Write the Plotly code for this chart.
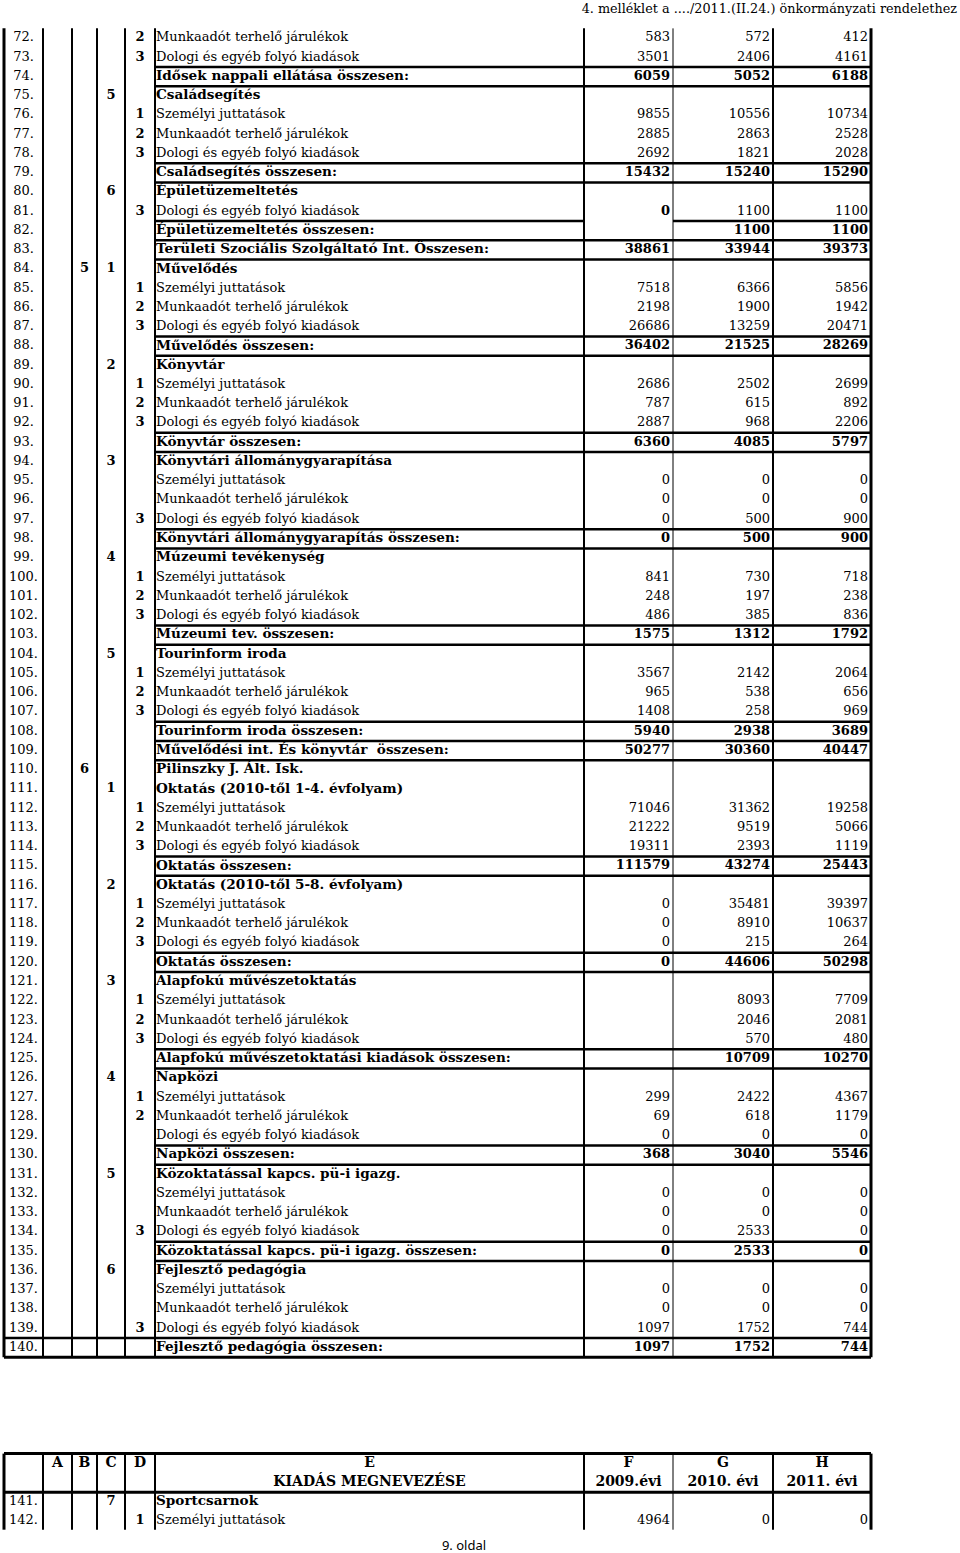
import plotly.graph_objects as go

# ---------------- data ----------------
row_no = list(range(72, 141))
col_b = {84: "5", 110: "6"}
col_c = {75: "5", 80: "6", 84: "1", 89: "2", 94: "3", 99: "4", 104: "5",
         111: "1", 116: "2", 121: "3", 126: "4", 131: "5", 136: "6"}
col_d = {72: "2", 73: "3", 76: "1", 77: "2", 78: "3", 81: "3", 85: "1", 86: "2", 87: "3",
         90: "1", 91: "2", 92: "3", 97: "3", 100: "1", 101: "2", 102: "3",
         105: "1", 106: "2", 107: "3", 112: "1", 113: "2", 114: "3",
         117: "1", 118: "2", 119: "3", 122: "1", 123: "2", 124: "3",
         127: "1", 128: "2", 134: "3", 139: "3"}
labels = [
    "Munkaadót terhelő járulékok", "Dologi és egyéb folyó kiadások",
    "Idősek nappali ellátása összesen:", "Családsegítés",
    "Személyi juttatások", "Munkaadót terhelő járulékok", "Dologi és egyéb folyó kiadások",
    "Családsegítés összesen:", "Épületüzemeltetés", "Dologi és egyéb folyó kiadások",
    "Épületüzemeltetés összesen:", "Területi Szociális Szolgáltató Int. Összesen:",
    "Művelődés", "Személyi juttatások", "Munkaadót terhelő járulékok",
    "Dologi és egyéb folyó kiadások", "Művelődés összesen:", "Könyvtár",
    "Személyi juttatások", "Munkaadót terhelő járulékok", "Dologi és egyéb folyó kiadások",
    "Könyvtár összesen:", "Könyvtári állománygyarapítása", "Személyi juttatások",
    "Munkaadót terhelő járulékok", "Dologi és egyéb folyó kiadások",
    "Könyvtári állománygyarapítás összesen:", "Múzeumi tevékenység",
    "Személyi juttatások", "Munkaadót terhelő járulékok", "Dologi és egyéb folyó kiadások",
    "Múzeumi tev. összesen:", "Tourinform iroda", "Személyi juttatások",
    "Munkaadót terhelő járulékok", "Dologi és egyéb folyó kiadások",
    "Tourinform iroda összesen:", "Művelődési int. És könyvtár  összesen:",
    "Pilinszky J. Ált. Isk.", "Oktatás (2010-től 1-4. évfolyam)",
    "Személyi juttatások", "Munkaadót terhelő járulékok", "Dologi és egyéb folyó kiadások",
    "Oktatás összesen:", "Oktatás (2010-től 5-8. évfolyam)", "Személyi juttatások",
    "Munkaadót terhelő járulékok", "Dologi és egyéb folyó kiadások", "Oktatás összesen:",
    "Alapfokú művészetoktatás", "Személyi juttatások", "Munkaadót terhelő járulékok",
    "Dologi és egyéb folyó kiadások", "Alapfokú művészetoktatási kiadások összesen:",
    "Napközi", "Személyi juttatások", "Munkaadót terhelő járulékok",
    "Dologi és egyéb folyó kiadások", "Napközi összesen:",
    "Közoktatással kapcs. pü-i igazg.", "Személyi juttatások",
    "Munkaadót terhelő járulékok", "Dologi és egyéb folyó kiadások",
    "Közoktatással kapcs. pü-i igazg. összesen:", "Fejlesztő pedagógia",
    "Személyi juttatások", "Munkaadót terhelő járulékok", "Dologi és egyéb folyó kiadások",
    "Fejlesztő pedagógia összesen:",
]
header_rows = [75, 80, 84, 89, 94, 99, 104, 110, 111, 116, 121, 126, 131, 136]
sum_rows = [74, 79, 82, 83, 88, 93, 98, 103, 108, 109, 115, 120, 125, 130, 135, 140]
f_2009 = [583, 3501, 6059, None, 9855, 2885, 2692, 15432, None, 0, None, 38861,
          None, 7518, 2198, 26686, 36402, None, 2686, 787, 2887, 6360, None, 0, 0, 0, 0,
          None, 841, 248, 486, 1575, None, 3567, 965, 1408, 5940, 50277, None, None,
          71046, 21222, 19311, 111579, None, 0, 0, 0, 0, None, None, None, None, None,
          None, 299, 69, 0, 368, None, 0, 0, 0, 0, None, 0, 0, 1097, 1097]
g_2010 = [572, 2406, 5052, None, 10556, 2863, 1821, 15240, None, 1100, 1100, 33944,
          None, 6366, 1900, 13259, 21525, None, 2502, 615, 968, 4085, None, 0, 0, 500, 500,
          None, 730, 197, 385, 1312, None, 2142, 538, 258, 2938, 30360, None, None,
          31362, 9519, 2393, 43274, None, 35481, 8910, 215, 44606, None, 8093, 2046, 570,
          10709, None, 2422, 618, 0, 3040, None, 0, 0, 2533, 2533, None, 0, 0, 1752, 1752]
h_2011 = [412, 4161, 6188, None, 10734, 2528, 2028, 15290, None, 1100, 1100, 39373,
          None, 5856, 1942, 20471, 28269, None, 2699, 892, 2206, 5797, None, 0, 0, 900, 900,
          None, 718, 238, 836, 1792, None, 2064, 656, 969, 3689, 40447, None, None,
          19258, 5066, 1119, 25443, None, 39397, 10637, 264, 50298, None, 7709, 2081, 480,
          10270, None, 4367, 1179, 0, 5546, None, 0, 0, 0, 0, None, 0, 0, 744, 744]
bold_f_rows = [81]          # merged F cell printed in bold
merged_f_between = [81]     # no line under this row in column F

# second (continued) table
head_letters = ["A", "B", "C", "D"]
head_e = ["E", "KIADÁS MEGNEVEZÉSE"]
head_years = [("F", "2009.évi"), ("G", "2010. évi"), ("H", "2011. évi")]
low_rows = [141, 142]
low_c = {141: "7"}
low_d = {142: "1"}
low_labels = ["Sportcsarnok", "Személyi juttatások"]
low_bold = [True, False]
low_f = [None, 4964]
low_g = [None, 0]
low_h = [None, 0]

title = "4. melléklet a ..../2011.(II.24.) önkormányzati rendelethez"
footer = "9. oldal"

# ---------------- layout constants ----------------
edges = [4, 43, 72, 97, 125, 155, 584, 673, 773, 871]
edge_w = [3, 2, 2, 2, 2, 2, 2, 1, 2, 3]
SERIF = "DejaVu Serif"
FS = 13        # regular text and numbers
FSB_NUM = 13   # bold numbers / codes
FSB_TXT = 13.6 # bold labels
LOW_OFFSET = 76 - 69    # slot gap before the continued table
HEAD_SLOTS = [74, 75]
ROW_PX = 19.26
Y0_PX = 38

def center(i):
    return (edges[i] + edges[i + 1]) / 2

fig = go.Figure()

def add_text(xs, ys, texts, pos, bold=False, size=None, family=SERIF):
    if size is None:
        size = FSB_NUM if bold else FS
    fig.add_trace(go.Scatter(
        x=xs, y=ys, text=texts, mode="text", textposition=pos,
        textfont=dict(family=family, size=size, color="black",
                      weight="bold" if bold else "normal"),
        hoverinfo="skip", showlegend=False))

n = len(row_no)
slots = list(range(n))
# row numbers
add_text([center(0)] * n, slots, [f"{r}." for r in row_no], "middle center")
# codes
for col, idx in ((col_b, 2), (col_c, 3), (col_d, 4)):
    ks = sorted(col)
    add_text([center(idx)] * len(ks), [row_no.index(k) for k in ks],
             [col[k] for k in ks], "middle center", bold=True)
# labels
bold_set = set(header_rows) | set(sum_rows)
for b in (False, True):
    ids = [i for i, r in enumerate(row_no) if (r in bold_set) == b]
    add_text([edges[5] + 1] * len(ids), ids, [labels[i] for i in ids], "middle right",
             bold=b, size=FSB_TXT if b else FS)
# values
for vals, ci in ((f_2009, 7), (g_2010, 8), (h_2011, 9)):
    for b in (False, True):
        ids = [i for i, r in enumerate(row_no)
               if vals[i] is not None and ((r in sum_rows) or (ci == 7 and r in bold_f_rows)) == b]
        add_text([edges[ci] - 3] * len(ids), ids, [str(vals[i]) for i in ids],
                 "middle left", bold=b)

# continued table
ls = [r - 72 + LOW_OFFSET for r in low_rows]
add_text([center(0)] * 2, ls, [f"{r}." for r in low_rows], "middle center")
for col, idx in ((low_c, 3), (low_d, 4)):
    for k, v in col.items():
        add_text([center(idx)], [k - 72 + LOW_OFFSET], [v], "middle center", bold=True)
for b in (True, False):
    ids = [i for i in range(2) if low_bold[i] == b]
    add_text([edges[5] + 1] * len(ids), [ls[i] for i in ids],
             [low_labels[i] for i in ids], "middle right", bold=b,
             size=FSB_TXT if b else FS)
for vals, ci in ((low_f, 7), (low_g, 8), (low_h, 9)):
    ids = [i for i in range(2) if vals[i] is not None]
    add_text([edges[ci] - 3] * len(ids), [ls[i] for i in ids],
             [str(vals[i]) for i in ids], "middle left")
add_text([center(i) for i in range(1, 5)], [HEAD_SLOTS[0]] * 4, head_letters,
         "middle center", bold=True, size=14)
add_text([center(5)] * 2, HEAD_SLOTS, head_e, "middle center", bold=True, size=14)
for k, (a, b) in enumerate(head_years):
    add_text([center(6 + k)] * 2, HEAD_SLOTS, [a, b], "middle center", bold=True,
             size=14)

# title / footer
add_text([957], [-1.45], [title], "middle left", size=12.8)
add_text([464], [78.33], [footer], "middle center", size=13, family="Noto Sans")

# ---------------- lines ----------------
shapes = []
def hline(y, x0, x1, w=2.5):
    shapes.append(dict(type="line", xref="x", yref="y", x0=x0, x1=x1, y0=y, y1=y,
                       line=dict(color="black", width=w)))
def vline(x, y0, y1, w):
    shapes.append(dict(type="line", xref="x", yref="y", x0=x, x1=x, y0=y0, y1=y1,
                       line=dict(color="black", width=w)))

top, bottom = -0.5, n - 0.5
for x, w in zip(edges, edge_w):
    vline(x, top, bottom, w)
done = set()
for r in sum_rows:
    s = row_no.index(r)
    for y in (s - 0.5, s + 0.5):
        if y in done or y >= bottom:
            continue
        done.add(y)
        upper_row = row_no[int(y - 0.5)] if y > 0 else None
        x0 = edges[0] if r == row_no[-1] and y == s - 0.5 else edges[5]
        if upper_row in merged_f_between:
            hline(y, x0, edges[6]); hline(y, edges[7], edges[9])
        else:
            hline(y, x0, edges[9])
hline(bottom, edges[0], edges[9], 3)

htop = HEAD_SLOTS[0] - 0.5
hbot = HEAD_SLOTS[1] + 0.5
lend = max(ls) + 0.45
for x, w in zip(edges, edge_w):
    vline(x, htop, lend, w)
hline(htop, edges[0], edges[9], 3)
hline(hbot, edges[0], edges[9], 3)

fig.update_layout(
    width=960, height=1553, margin=dict(l=0, r=0, t=0, b=0),
    paper_bgcolor="white", plot_bgcolor="white", shapes=shapes,
    xaxis=dict(range=[0, 960], visible=False, fixedrange=True),
    yaxis=dict(range=[(1553 - Y0_PX) / ROW_PX, -Y0_PX / ROW_PX], visible=False,
               fixedrange=True),
)
fig.write_html("out.html", config={"displayModeBar": False},
               post_script="document.body.style.margin='0';document.body.style.overflow='hidden';")
